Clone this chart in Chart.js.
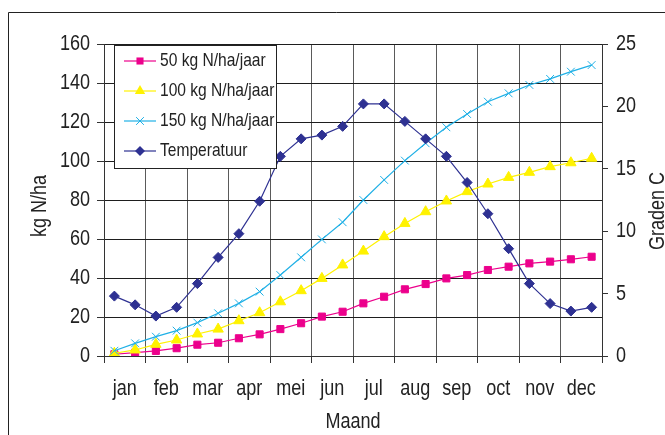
<!DOCTYPE html>
<html>
<head>
<meta charset="utf-8">
<script src="https://cdn.jsdelivr.net/npm/chart.js@4.4.0/dist/chart.umd.min.js"></script>
<style>
  html, body { margin: 0; padding: 0; background: #fff; }
  #wrap { width: 665px; height: 435px; }
</style>
</head>
<body>
<div id="wrap"><canvas id="chart" width="665" height="435"></canvas></div>
<script>
// Stikstof (kg N/ha) per halve maand en temperatuur (graden C)
const months = ['jan', 'feb', 'mar', 'apr', 'mei', 'jun', 'jul', 'aug', 'sep', 'oct', 'nov', 'dec'];
const leftTicks = [0, 20, 40, 60, 80, 100, 120, 140, 160];
const rightTicks = [0, 5, 10, 15, 20, 25];

const n50 = [0.9, 1.7, 2.6, 4.0, 5.8, 6.8, 9.1, 11.1, 13.8, 16.8, 20.2, 22.7,
             27.0, 30.4, 34.2, 36.9, 39.8, 41.5, 44.1, 45.8, 47.5, 48.4, 49.6, 50.9];
const n100 = [1.4, 3.1, 6.0, 8.2, 11.3, 13.8, 18.1, 22.2, 27.8, 33.5, 39.8, 46.7,
              53.8, 61.2, 68.0, 74.0, 79.5, 84.3, 88.2, 91.6, 94.2, 97.1, 99.1, 101.4];
const n150 = [2.7, 6.5, 9.9, 13.0, 17.1, 21.9, 27.0, 33.0, 41.5, 50.6, 59.8, 68.6,
              80.0, 90.3, 100.2, 109.1, 117.3, 124.1, 130.4, 134.7, 139.0, 142.1, 145.8, 149.2];
const temperatuur = [4.8, 4.1, 3.2, 3.9, 5.8, 7.9, 9.8, 12.4, 16.0, 17.4, 17.7, 18.4,
                     20.2, 20.2, 18.8, 17.4, 16.0, 13.9, 11.4, 8.6, 5.8, 4.2, 3.6, 3.9];

// no Arial Narrow here, so regular Liberation Sans gets squeezed horizontally
const FONT = '"Liberation Sans", Arial, sans-serif';
const SQUEEZE = 0.82;
const TEXT = '#222';

// two points per month, placed in the first and second half of each month band
function toPoints(values) {
  return values.map((v, i) => ({ x: (i + 0.5) / 2, y: v }));
}

function series(label, values, color, pointStyle, radius, axis, order) {
  return {
    label: label,
    data: toPoints(values),
    yAxisID: axis,
    borderColor: color,
    backgroundColor: color,
    borderWidth: 1.2,
    pointStyle: pointStyle,
    pointRadius: radius,
    pointBorderWidth: 1,
    pointBorderColor: color,
    pointBackgroundColor: color,
    tension: 0,
    order: order
  };
}

const datasets = [
  series('50 kg N/ha/jaar', n50, '#EC008C', 'rect', 5, 'y', 3),
  series('100 kg N/ha/jaar', n100, '#FFF200', 'triangle', 6, 'y', 2),
  series('150 kg N/ha/jaar', n150, '#1FB0E6', 'crossRot', 5.5, 'y', 1),
  series('Temperatuur', temperatuur, '#2E3192', 'rectRot', 5, 'y1', 0)
];

// draw text squeezed like a narrow font, optionally rotated
function narrowText(ctx, text, x, y, align, size, rotate) {
  ctx.save();
  ctx.translate(x, y);
  if (rotate) ctx.rotate(rotate);
  ctx.scale(SQUEEZE, 1);
  ctx.font = size + 'px ' + FONT;
  ctx.textAlign = align;
  ctx.textBaseline = 'middle';
  ctx.fillText(text, 0, 0);
  ctx.restore();
}

// little marker painter for the legend box
function drawMarker(ctx, style, x, y, r, color) {
  ctx.save();
  ctx.fillStyle = color;
  ctx.strokeStyle = color;
  ctx.lineWidth = 1;
  ctx.beginPath();
  if (style === 'rect') {
    const s = r * Math.SQRT1_2;
    ctx.rect(x - s, y - s, 2 * s, 2 * s);
    ctx.fill();
  } else if (style === 'triangle') {
    for (let k = 0; k < 3; k++) {
      const a = k * 2 * Math.PI / 3;
      const px = x + Math.sin(a) * r, py = y - Math.cos(a) * r;
      if (k === 0) ctx.moveTo(px, py); else ctx.lineTo(px, py);
    }
    ctx.closePath();
    ctx.fill();
  } else if (style === 'crossRot') {
    const s = r * Math.SQRT1_2;
    ctx.moveTo(x - s, y - s); ctx.lineTo(x + s, y + s);
    ctx.moveTo(x - s, y + s); ctx.lineTo(x + s, y - s);
    ctx.stroke();
  } else if (style === 'rectRot') {
    ctx.moveTo(x, y - r); ctx.lineTo(x + r, y); ctx.lineTo(x, y + r); ctx.lineTo(x - r, y);
    ctx.closePath();
    ctx.fill();
  }
  ctx.restore();
}

const decorPlugin = {
  id: 'decor',
  beforeDraw(chart) {
    const ctx = chart.ctx;
    ctx.save();
    ctx.fillStyle = '#fff';
    ctx.fillRect(0, 0, chart.width, chart.height);
    // outer frame (only top and left edges are visible)
    ctx.strokeStyle = '#222';
    ctx.lineWidth = 1;
    ctx.beginPath();
    ctx.moveTo(8.5, chart.height);
    ctx.lineTo(8.5, 12.5);
    ctx.lineTo(chart.width, 12.5);
    ctx.stroke();
    ctx.restore();
  },
  afterDraw(chart) {
    const ctx = chart.ctx;
    const area = chart.chartArea;
    const sx = chart.scales.x, sy = chart.scales.y, sy1 = chart.scales.y1;
    ctx.save();
    ctx.fillStyle = TEXT;

    // tick labels, positioned by the scales
    months.forEach((m, i) => narrowText(ctx, m, sx.getPixelForValue(i + 0.5), 389, 'center', 22));
    leftTicks.forEach(v => narrowText(ctx, String(v), 90, sy.getPixelForValue(v), 'right', 22));
    rightTicks.forEach(v => narrowText(ctx, String(v), 616, sy1.getPixelForValue(v), 'left', 22));

    // axis titles
    narrowText(ctx, 'Maand', (area.left + area.right) / 2, 422, 'center', 22);
    narrowText(ctx, 'kg N/ha', 40, 206, 'center', 22, -Math.PI / 2);
    narrowText(ctx, 'Graden C', 658, 211, 'center', 22, -Math.PI / 2);

    // legend box inside the plot
    const bx = 114.5, by = 45.5, bw = 162, bh = 123;
    ctx.fillStyle = '#fff';
    ctx.fillRect(bx, by, bw, bh);
    ctx.strokeStyle = '#222';
    ctx.lineWidth = 1;
    ctx.strokeRect(bx, by, bw, bh);
    chart.data.datasets.forEach((ds, i) => {
      const y = 61 + i * 30;
      ctx.strokeStyle = ds.borderColor;
      ctx.lineWidth = 1.2;
      ctx.beginPath();
      ctx.moveTo(124, y);
      ctx.lineTo(156, y);
      ctx.stroke();
      drawMarker(ctx, ds.pointStyle, 140, y, ds.pointRadius, ds.borderColor);
      ctx.fillStyle = TEXT;
      narrowText(ctx, ds.label, 160, y, 'left', 19);
    });
    ctx.restore();
  }
};

const chart = new Chart(document.getElementById('chart'), {
  type: 'line',
  data: { datasets: datasets },
  plugins: [decorPlugin],
  options: {
    responsive: false,
    animation: false,
    layout: { padding: { top: 44, left: 0, right: 0, bottom: 0 } },
    plugins: {
      legend: { display: false },
      tooltip: { enabled: false }
    },
    scales: {
      x: {
        type: 'linear',
        position: 'bottom',
        min: 0,
        max: months.length,
        afterBuildTicks: (scale) => {
          scale.ticks = months.concat(['']).map((m, i) => ({ value: i }));
        },
        afterFit: (scale) => { scale.height = 79; },
        ticks: { display: false },
        grid: { color: '#5a5a5a', tickColor: '#333', tickLength: 7, lineWidth: 1 },
        border: { display: true, color: '#333', width: 1 }
      },
      y: {
        position: 'left',
        min: leftTicks[0],
        max: leftTicks[leftTicks.length - 1],
        afterBuildTicks: (scale) => { scale.ticks = leftTicks.map(v => ({ value: v })); },
        afterFit: (scale) => { scale.width = 104; },
        ticks: { display: false },
        grid: { color: '#1e1e1e', tickColor: '#333', tickLength: 7, lineWidth: 1 },
        border: { display: true, color: '#333', width: 1 }
      },
      y1: {
        position: 'right',
        min: rightTicks[0],
        max: rightTicks[rightTicks.length - 1],
        afterBuildTicks: (scale) => { scale.ticks = rightTicks.map(v => ({ value: v })); },
        afterFit: (scale) => { scale.width = 63; },
        ticks: { display: false },
        grid: { drawOnChartArea: false, tickColor: '#333', tickLength: 6 },
        border: { display: true, color: '#333', width: 1 }
      }
    }
  }
});
</script>
</body>
</html>
